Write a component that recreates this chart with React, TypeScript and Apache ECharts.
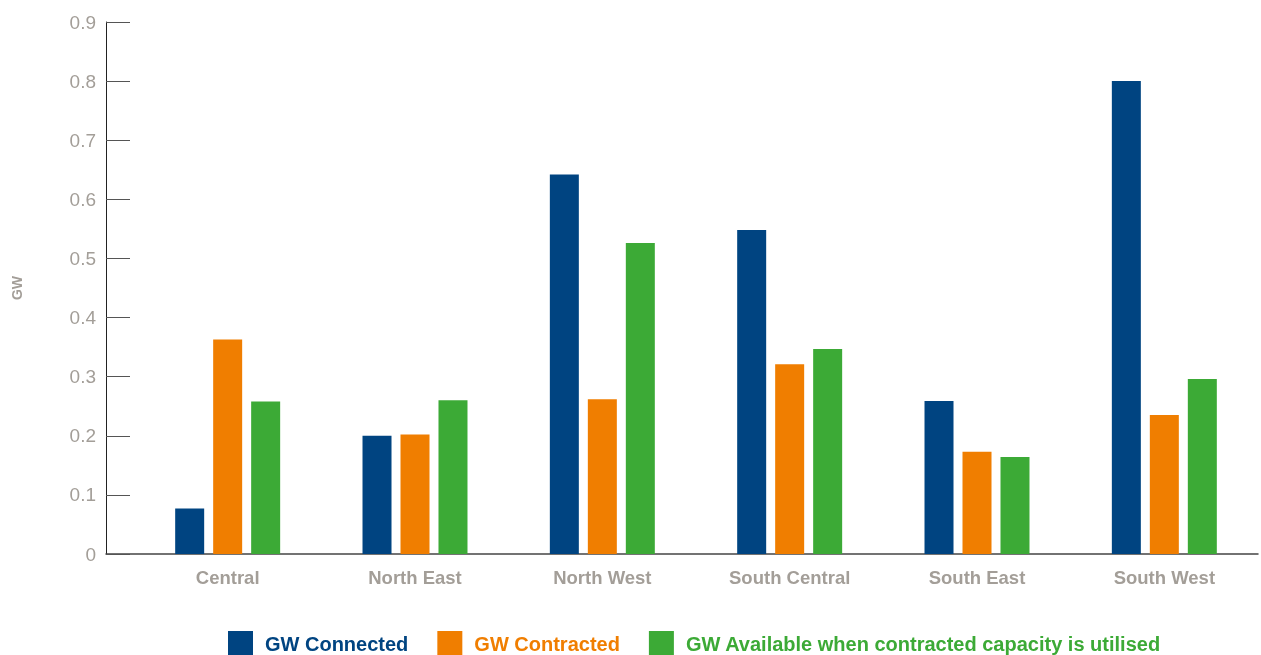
import React, { useEffect, useRef } from "react";
import * as echarts from "echarts";

const categories = ["Central", "North East", "North West", "South Central", "South East", "South West"];
const connected = [0.077, 0.2, 0.642, 0.548, 0.259, 0.8];
const contracted = [0.363, 0.202, 0.262, 0.321, 0.173, 0.235];
const available = [0.258, 0.26, 0.526, 0.347, 0.164, 0.296];
const seriesNames = ["GW Connected", "GW Contracted", "GW Available when contracted capacity is utilised"];
const colors = ["#004481", "#F07E00", "#3CAA36"];

export default function App() {
  const ref = useRef<HTMLDivElement>(null);
  useEffect(() => {
    if (!ref.current) return;
    const chart = echarts.init(ref.current, null, { renderer: "svg" });
    const font = "'Liberation Sans', Arial, Helvetica, sans-serif";
    const gray = "#A39E98";
    const dataSets = [connected, contracted, available];
    chart.setOption({
      animation: false,
      textStyle: { fontFamily: font },
      grid: [
        { left: 106, right: 3, top: 22, bottom: 101 },
        { left: 134, right: 3, top: 22, bottom: 101 },
      ],
      legend: {
        left: 223,
        top: 626,
        itemWidth: 25,
        itemHeight: 25,
        itemGap: 29,
        icon: "rect",
        selectedMode: false,
        data: seriesNames.map((n, i) => ({
          name: n,
          textStyle: { color: colors[i], fontSize: 20, fontWeight: "bold", fontFamily: font, padding: [0, 0, 0, 7] },
        })),
      },
      xAxis: [
        {
          gridIndex: 0,
          type: "value",
          min: 0,
          max: 1,
          axisLine: { show: true, onZero: false, lineStyle: { color: "#444", width: 1.5 } },
          axisTick: { show: false },
          axisLabel: { show: false },
          splitLine: { show: false },
        },
        {
          gridIndex: 1,
          type: "category",
          data: categories,
          axisLine: { show: false },
          axisTick: { show: false },
          axisLabel: { color: gray, fontSize: 18.5, fontWeight: "bold", fontFamily: font, margin: 14 },
        },
      ],
      yAxis: [
        {
          gridIndex: 0,
          type: "value",
          min: 0,
          max: 0.9,
          interval: 0.1,
          name: "GW",
          nameLocation: "middle",
          nameGap: 82,
          nameTextStyle: { color: gray, fontSize: 14, fontWeight: "bold", fontFamily: font },
          axisLine: { show: true, lineStyle: { color: "#222", width: 1 } },
          axisTick: { show: true, inside: true, length: 24, lineStyle: { color: "#555" } },
          axisLabel: {
            color: gray,
            fontSize: 19,
            fontFamily: font,
            margin: 10,
            formatter: (v: number) => (v === 0 ? "0" : v.toFixed(1)),
          },
          splitLine: { show: false },
        },
        {
          gridIndex: 1,
          type: "value",
          min: 0,
          max: 0.9,
          interval: 0.1,
          show: false,
          splitLine: { show: false },
        },
      ],
      series: dataSets.map((d, i) => ({
        name: seriesNames[i],
        type: "bar",
        xAxisIndex: 1,
        yAxisIndex: 1,
        data: d,
        barWidth: 29,
        barGap: "31%",
        itemStyle: { color: colors[i] },
      })),
    });
    return () => chart.dispose();
  }, []);
  return <div ref={ref} style={{ position: "fixed", left: 0, top: 0, width: 1261, height: 655 }} />;
}
